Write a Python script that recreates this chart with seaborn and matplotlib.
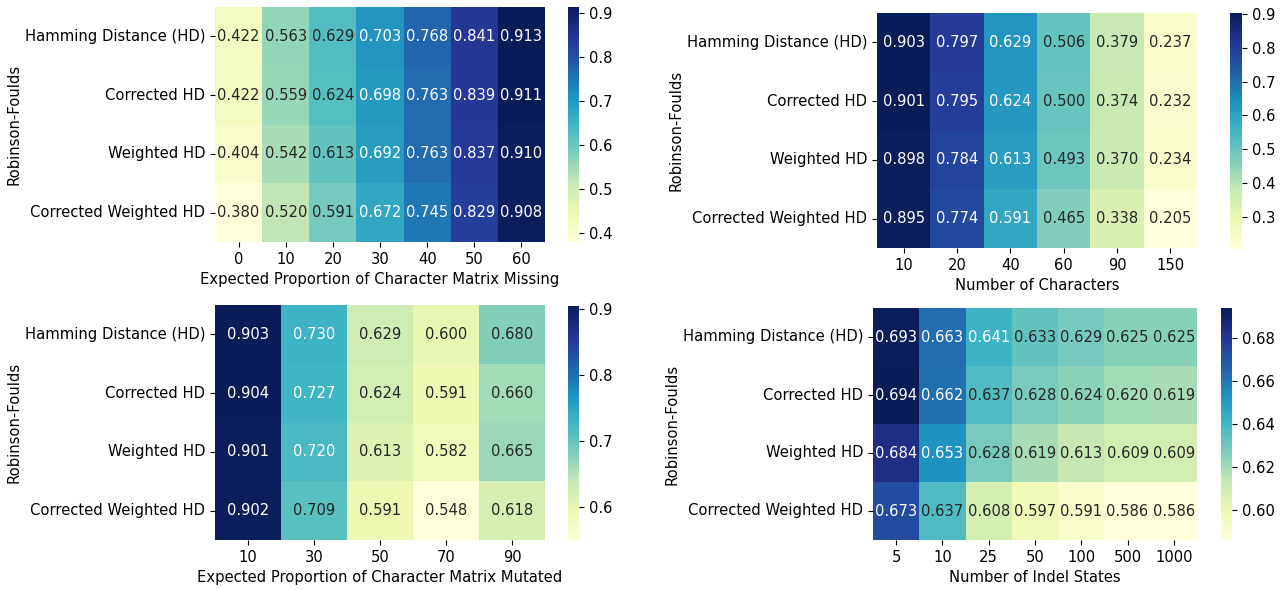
import matplotlib
matplotlib.use("Agg")
import matplotlib.pyplot as plt
import seaborn as sns
import pandas as pd
import numpy as np

methods = ["Hamming Distance (HD)", "Corrected HD", "Weighted HD", "Corrected Weighted HD"]

missing_labels = ["0", "10", "20", "30", "40", "50", "60"]
missing_vals = [
    [0.422, 0.563, 0.629, 0.703, 0.768, 0.841, 0.913],
    [0.422, 0.559, 0.624, 0.698, 0.763, 0.839, 0.911],
    [0.404, 0.542, 0.613, 0.692, 0.763, 0.837, 0.910],
    [0.380, 0.520, 0.591, 0.672, 0.745, 0.829, 0.908],
]

chars_labels = ["10", "20", "40", "60", "90", "150"]
chars_vals = [
    [0.903, 0.797, 0.629, 0.506, 0.379, 0.237],
    [0.901, 0.795, 0.624, 0.500, 0.374, 0.232],
    [0.898, 0.784, 0.613, 0.493, 0.370, 0.234],
    [0.895, 0.774, 0.591, 0.465, 0.338, 0.205],
]

mutated_labels = ["10", "30", "50", "70", "90"]
mutated_vals = [
    [0.903, 0.730, 0.629, 0.600, 0.680],
    [0.904, 0.727, 0.624, 0.591, 0.660],
    [0.901, 0.720, 0.613, 0.582, 0.665],
    [0.902, 0.709, 0.591, 0.548, 0.618],
]

indel_labels = ["5", "10", "25", "50", "100", "500", "1000"]
indel_vals = [
    [0.693, 0.663, 0.641, 0.633, 0.629, 0.625, 0.625],
    [0.694, 0.662, 0.637, 0.628, 0.624, 0.620, 0.619],
    [0.684, 0.653, 0.628, 0.619, 0.613, 0.609, 0.609],
    [0.673, 0.637, 0.608, 0.597, 0.591, 0.586, 0.586],
]

W, H = 1280, 590
fig = plt.figure(figsize=(W / 100, H / 100), dpi=100)


def rect(x0, x1, y0, y1):
    return [x0 / W, 1 - y1 / H, (x1 - x0) / W, (y1 - y0) / H]


panels = [
    (missing_vals, missing_labels, "Expected Proportion of Character Matrix Missing",
     rect(215, 545, 7, 242), rect(568, 579, 7, 242)),
    (chars_vals, chars_labels, "Number of Characters",
     rect(877, 1197, 13, 248), rect(1230, 1242, 13, 249)),
    (mutated_vals, mutated_labels, "Expected Proportion of Character Matrix Mutated",
     rect(215, 545, 305, 540), rect(568, 579, 306, 541)),
    (indel_vals, indel_labels, "Number of Indel States",
     rect(873, 1197, 308, 540), rect(1221, 1232, 308, 540)),
]

for vals, cols, xlabel, axr, cbr in panels:
    df = pd.DataFrame(vals, index=methods, columns=cols)
    ax = fig.add_axes(axr)
    cax = fig.add_axes(cbr)
    sns.heatmap(df, ax=ax, cbar_ax=cax, cmap="YlGnBu", annot=True, fmt=".3f",
                annot_kws={"fontsize": 10.6})
    ax.set_xlabel(xlabel, fontsize=10.6)
    ax.set_ylabel("Robinson-Foulds", fontsize=10.6, labelpad=2)
    ax.tick_params(axis="both", labelsize=10.6)
    ax.set_yticklabels(ax.get_yticklabels(), rotation=0)
    ax.set_xticklabels(ax.get_xticklabels(), rotation=0)
    cax.tick_params(labelsize=10.6)

fig.savefig("out.png", dpi=100)
